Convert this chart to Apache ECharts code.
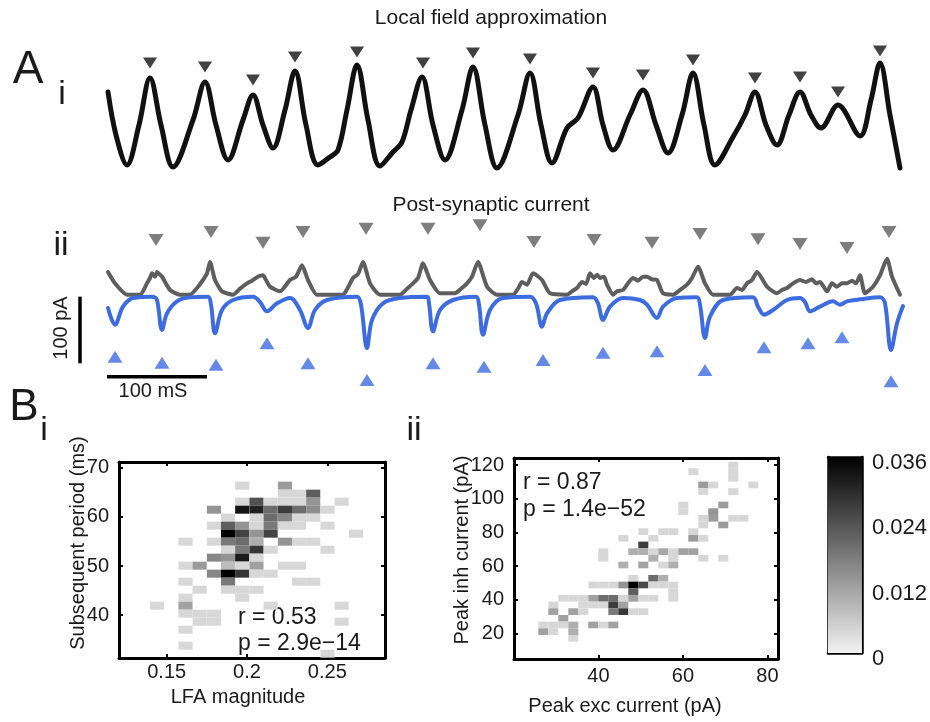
<!DOCTYPE html>
<html><head><meta charset="utf-8">
<script src="https://cdn.jsdelivr.net/npm/echarts@6/dist/echarts.min.js"></script>
<style>html,body{margin:0;padding:0;background:#fff}#c{width:930px;height:722px}</style>
</head><body><div id="c"></div>
<script>
const FONT = "'Liberation Sans', Arial, Helvetica, sans-serif";

// ---- A(i) local field approximation trace (time in ms, arbitrary units) ----
const lfaTime  = [0,8,19,31,42,53,65,85,97,108,120,135,145,155,165,177,187,198,210,222,230,239,249,260,272,285,294,303,314,325,337,354,365,377,389,410,422,433,444,459,470,485,495,505,522,535,548,560,574,585,596,607,625,637,647,658,669,681,692,703,713,730,752,763,772,782,792];
const lfaValue = [78,35,5,45,92,45,3,50,88,45,10,50,75,45,22,60,99,45,5,13,20,60,105,50,4,18,28,60,93,45,10,60,103,45,2,55,97,45,7,42,52,83,45,20,55,80,45,17,55,97,45,5,33,55,78,45,25,55,78,55,42,65,34,70,107,55,2];
const lfaPeakTime  = [42,97,145,187,249,315,365,422,485,535,585,647,692,730,772];
const lfaPeakValue = [107,103,90,113,118,107,117,111,97,95,110,92,93,78,119];

// ---- A(ii) post-synaptic currents (pA) ----
const inhTime  = [0,7,19,32,39,42,44,47,49,52,54,62,72,82,89,95,99,102,107,114,125,132,139,144,150,155,158,162,172,182,188,194,200,209,235,240,245,250,255,262,272,292,299,305,310,315,322,332,347,353,359,364,370,379,389,405,410,414,419,425,434,442,459,464,469,474,478,482,486,489,492,496,499,505,509,515,520,525,530,535,539,544,549,555,565,572,579,584,590,597,605,622,629,634,639,644,649,659,669,674,679,685,692,698,704,708,712,719,724,729,734,739,744,748,752,757,765,772,779,784,792];
const inhValue = [37,20,3,3,20,28,35,30,37,33,30,10,3,3,13,25,35,52,25,8,3,12,20,24,30,32,25,15,8,25,30,47,25,3,3,14,28,34,52,20,3,3,12,20,28,50,25,5,5,12,20,30,52,15,3,3,12,22,18,35,25,5,3,8,13,22,19,35,28,33,28,30,18,3,8,10,20,28,24,30,30,26,25,5,3,10,18,28,45,20,3,3,13,10,20,25,37,15,5,10,13,20,25,22,26,20,22,8,20,15,20,20,24,20,32,5,15,32,57,30,3];
const excTime  = [0,7,15,25,45,49,54,59,69,82,100,103,107,114,125,145,152,159,169,182,192,200,207,219,249,253,259,264,275,292,319,321,325,332,345,368,371,375,382,395,422,428,434,439,452,485,490,495,502,515,532,539,549,555,569,589,592,597,602,615,645,650,656,665,679,692,697,702,712,725,732,739,752,772,777,783,789,795];
const excValue = [-17,-42,-15,-2,0,-5,-50,-25,-7,-1,0,-12,-55,-20,-5,0,-8,-22,-10,-2,-20,-47,-20,-5,0,-12,-77,-35,-10,-2,0,-10,-52,-20,-5,0,-12,-57,-20,-2,0,-10,-45,-25,-5,-1,-10,-35,-15,-2,-5,-12,-32,-15,-2,-1,-12,-62,-30,-5,-1,-15,-27,-20,-5,-2,-8,-22,-15,-7,-12,-7,-4,-1,-10,-80,-40,-14];
const inhPeakTime  = [48,103,155,195,258,320,372,426,486,544,592,650,692,739,781];
const inhPeakValue = [85,97,81,97,102,102,107,82,85,81,94,86,79,73,97];
const excPeakTime  = [7,54,108,159,200,259,325,376,435,495,549,597,656,700,734,783];
const excPeakValue = [-90,-99,-102,-70,-100,-125,-100,-105,-95,-84,-82,-110,-76,-70,-61,-127];

// ---- B(i) 2D histogram: LFA magnitude vs subsequent period ----
const biXCenters = [0.1440,0.1528,0.1617,0.1705,0.1794,0.1882,0.1970,0.2059,0.2147,0.2236,0.2324,0.2412,0.2501,0.2589,0.2678];
const biYCenters = [32.16,33.79,35.42,37.04,38.67,40.30,41.93,43.56,45.18,46.81,48.44,50.07,51.70,53.32,54.95,56.58,58.21,59.84,61.46,63.09,64.72,66.35,67.98,69.60];
const biCells = [
 [6,21,.004],[9,21,.013],
 [9,20,.004],[10,20,.004],[11,20,.022],
 [6,19,.004],[7,19,.024],[8,19,.004],[9,19,.004],[10,19,.004],[11,19,.014],[13,19,.004],
 [4,18,.014],[6,18,.033],[7,18,.031],[8,18,.02],[9,18,.027],[10,18,.02],[11,18,.015],[12,18,.004],
 [5,17,.004],[7,17,.004],[8,17,.02],[9,17,.016],[10,17,.004],[11,17,.004],
 [4,16,.004],[5,16,.022],[6,16,.014],[7,16,.004],[8,16,.018],[9,16,.004],[10,16,.004],[12,16,.004],
 [5,15,.036],[6,15,.026],[7,15,.014],[8,15,.026],[14,15,.004],
 [2,14,.004],[4,14,.004],[5,14,.018],[6,14,.02],[7,14,.01],[9,14,.014],[10,14,.004],[11,14,.004],
 [5,13,.004],[6,13,.018],[7,13,.028],[8,13,.004],[12,13,.004],
 [4,12,.016],[5,12,.014],[6,12,.032],[7,12,.004],
 [2,11,.004],[3,11,.013],[5,11,.008],[6,11,.004],[7,11,.012],[9,11,.004],[10,11,.004],
 [4,10,.016],[5,10,.036],[6,10,.028],[7,10,.004],[8,10,.004],
 [2,9,.004],[5,9,.018],[10,9,.004],[11,9,.004],
 [3,8,.004],[5,8,.004],[6,8,.004],[7,8,.004],
 [2,7,.004],[6,7,.004],
 [0,6,.004],[2,6,.012],[8,6,.004],[13,6,.004],
 [2,5,.004],[3,5,.004],[4,5,.004],
 [3,4,.004],[4,4,.004],[13,4,.004],
 [2,3,.004],[2,1,.004],[12,0,.004]
];

// ---- B(ii) 2D histogram: peak exc vs peak inh current ----
const biiXCenters = [26.94,29.31,31.67,34.04,36.41,38.78,41.14,43.51,45.88,48.24,50.61,52.98,55.34,57.71,60.08,62.45,64.81,67.18,69.55,71.91,74.28,76.65,79.01];
const biiYCenters = [17.03,20.99,24.96,28.92,32.88,36.85,40.81,44.77,48.73,52.70,56.66,60.62,64.59,68.55,72.51,76.48,80.44,84.40,88.36,92.33,96.29,100.25,104.22,108.18,112.14,116.11,120.07];
const biiCells = [
 [19,26,.004],[15,25,.004],[19,25,.004],[19,24,.004],
 [16,23,.013],[17,23,.004],[21,23,.004],
 [16,22,.004],[19,22,.004],
 [18,20,.013],[14,20,.004],
 [14,19,.004],[17,19,.014],
 [17,18,.013],[16,18,.004],[19,18,.004],[20,18,.004],
 [18,17,.013],[16,17,.004],
 [10,16,.004],[12,16,.004],[13,16,.004],[15,16,.004],
 [8,15,.004],[11,15,.004],[15,15,.013],[16,15,.004],
 [10,14,.027],
 [6,13,.004],[9,13,.01],[10,13,.01],[11,13,.004],[12,13,.011],[13,13,.004],[14,13,.012],[15,13,.012],
 [6,12,.004],[11,12,.01],[13,12,.004],[16,12,.004],[18,12,.004],
 [8,11,.01],[10,11,.012],[12,11,.004],[13,11,.01],
 [9,9,.004],[11,9,.02],[12,9,.01],
 [5,8,.004],[6,8,.004],[7,8,.004],[8,8,.014],[9,8,.036],[10,8,.025],[11,8,.004],[12,8,.004],[13,8,.004],
 [9,7,.022],[13,7,.004],
 [2,6,.004],[3,6,.004],[4,6,.004],[5,6,.012],[6,6,.02],[7,6,.02],[8,6,.004],[9,6,.012],[10,6,.004],[11,6,.004],[13,6,.004],
 [1,5,.004],[4,5,.004],[5,5,.004],[6,5,.004],[7,5,.027],[8,5,.012],
 [1,4,.012],[3,4,.012],[4,4,.004],[7,4,.018],[8,4,.028],[9,4,.004],[10,4,.004],
 [2,3,.012],
 [0,2,.004],[1,2,.004],[2,2,.004],[3,2,.01],[5,2,.012],[6,2,.004],[7,2,.012],
 [0,1,.012],[1,1,.004],[3,1,.01],
 [3,0,.004]
];

const biXTicks = [0.15, 0.2, 0.25];
const biYTicks = [40, 50, 60, 70];
const biiXTicks = [40, 60, 80];
const biiYTicks = [20, 40, 60, 80, 100, 120];
const cbTicks = [0, 0.012, 0.024, 0.036];
const cbMax = 0.036;

// scale bars (pA / ms)
const scalePA = [0, -100];
const scaleMS = [-1, 99];

const zip = (a, b) => a.map((v, i) => [v, b[i]]);
const grayOf = v => { const g = Math.round(242 * (1 - Math.min(v, cbMax) / cbMax)); return 'rgb(' + g + ',' + g + ',' + g + ')'; };
function heatItem(xs, ys) {
  const hw = (xs[1] - xs[0]) / 2, hh = (ys[1] - ys[0]) / 2;
  return function (params, api) {
    const x = api.value(0), y = api.value(1), v = api.value(2);
    const a = api.coord([x - hw, y + hh]), b = api.coord([x + hw, y - hh]);
    return { type: 'rect', shape: { x: a[0], y: a[1], width: b[0] - a[0], height: b[1] - a[1] }, style: { fill: grayOf(v) } };
  };
}

const hiddenAxis = (gi, min, max) => ({ type: 'value', gridIndex: gi, min, max, show: false });
function boxAxis(gi, min, max, ticks, pos, showLabel, extra, labelMargin) {
  return Object.assign({
    type: 'value', gridIndex: gi, min, max, position: pos,
    axisLine: { show: true, onZero: false, lineStyle: { color: '#000', width: 3 } },
    axisTick: { show: !!ticks, inside: true, length: 4, lineStyle: { color: '#000', width: 2 }, customValues: ticks || undefined },
    axisLabel: { show: showLabel, customValues: ticks || undefined, fontSize: 20, color: '#1a1a1a', fontFamily: FONT, margin: labelMargin == null ? 10 : labelMargin },
    splitLine: { show: false }
  }, extra || {});
}

const txt = (text, x, y, size, extra) => Object.assign({
  type: 'text', x, y,
  style: { text, font: size + 'px ' + FONT, fill: '#1a1a1a', align: 'center', verticalAlign: 'middle' }
}, extra || {});

const cbLine = { show: true, onZero: false, lineStyle: { color: '#000', width: 2.5 } };

const chart = echarts.init(document.getElementById('c'), null, { renderer: 'canvas' });
chart.setOption({
  backgroundColor: '#fff',
  animation: false,
  grid: [
    { left: 60, top: 40, width: 848, height: 140, containLabel: false },
    { left: 60, top: 220, width: 848, height: 180, containLabel: false },
    { left: 119, top: 462, width: 266, height: 196, containLabel: false },
    { left: 514, top: 458, width: 264, height: 201, containLabel: false },
    { left: 828, top: 457, width: 34, height: 196, containLabel: false }
  ],
  xAxis: [
    hiddenAxis(0, -48, 800),
    hiddenAxis(1, -48, 800),
    boxAxis(2, 0.1203, 0.2859, biXTicks, 'bottom', true, null, 4),
    boxAxis(2, 0.1203, 0.2859, biXTicks, 'top', false),
    boxAxis(3, 20, 82.5, biiXTicks, 'bottom', true, null, 7),
    boxAxis(3, 20, 82.5, biiXTicks, 'top', false),
    boxAxis(4, 0, 1, null, 'bottom', false, { axisLine: cbLine }),
    boxAxis(4, 0, 1, null, 'top', false, { axisLine: cbLine })
  ],
  yAxis: [
    hiddenAxis(0, -10, 130),
    hiddenAxis(1, -155, 115),
    boxAxis(2, 31.28, 71.16, biYTicks, 'left', true),
    boxAxis(2, 31.28, 71.16, biYTicks, 'right', false),
    boxAxis(3, 4.73, 124.2, biiYTicks, 'left', true),
    boxAxis(3, 4.73, 124.2, biiYTicks, 'right', false),
    boxAxis(4, 0, cbMax, null, 'left', false, { axisLine: cbLine }),
    boxAxis(4, 0, cbMax, cbTicks, 'right', true, {
      axisLine: cbLine,
      axisTick: { show: false },
      axisLabel: { show: true, customValues: cbTicks, fontSize: 22, color: '#1a1a1a', fontFamily: FONT, margin: 10,
        verticalAlign: 'top', lineHeight: 12,
        formatter: v => v === 0 ? '0' : v.toFixed(3) }
    })
  ],
  series: [
    { type: 'line', xAxisIndex: 0, yAxisIndex: 0, data: zip(lfaTime, lfaValue), smooth: 0.35, showSymbol: false,
      lineStyle: { color: '#111', width: 5, cap: 'round', join: 'round' }, z: 3 },
    { type: 'scatter', xAxisIndex: 0, yAxisIndex: 0, data: zip(lfaPeakTime, lfaPeakValue), symbol: 'triangle', symbolRotate: 180,
      symbolSize: [14, 11], itemStyle: { color: '#111' } },
    { type: 'line', xAxisIndex: 1, yAxisIndex: 1, data: zip(inhTime, inhValue), smooth: 0.2, showSymbol: false,
      lineStyle: { color: '#5e5e5e', width: 4, cap: 'round', join: 'round' }, z: 2 },
    { type: 'line', xAxisIndex: 1, yAxisIndex: 1, data: zip(excTime, excValue), smooth: 0.35, showSymbol: false,
      lineStyle: { color: '#3d6be0', width: 4, cap: 'round', join: 'round' }, z: 3 },
    { type: 'scatter', xAxisIndex: 1, yAxisIndex: 1, data: zip(inhPeakTime, inhPeakValue), symbol: 'triangle', symbolRotate: 180,
      symbolSize: [15, 12], itemStyle: { color: '#5e5e5e' } },
    { type: 'scatter', xAxisIndex: 1, yAxisIndex: 1, data: zip(excPeakTime, excPeakValue), symbol: 'triangle',
      symbolSize: [15, 12], itemStyle: { color: '#3d6be0' } },
    { type: 'line', xAxisIndex: 1, yAxisIndex: 1, data: [[-28, scalePA[0]], [-28, scalePA[1]]], showSymbol: false, clip: false,
      lineStyle: { color: '#000', width: 3.5 } },
    { type: 'line', xAxisIndex: 1, yAxisIndex: 1, data: [[scaleMS[0], -120], [scaleMS[1], -120]], showSymbol: false, clip: false,
      lineStyle: { color: '#000', width: 3.5 } },
    { type: 'custom', xAxisIndex: 2, yAxisIndex: 2, clip: true, renderItem: heatItem(biXCenters, biYCenters),
      encode: { x: 0, y: 1 }, data: biCells.map(c => [biXCenters[c[0]], biYCenters[c[1]], c[2]]), z: 1 },
    { type: 'custom', xAxisIndex: 4, yAxisIndex: 4, clip: true, renderItem: heatItem(biiXCenters, biiYCenters),
      encode: { x: 0, y: 1 }, data: biiCells.map(c => [biiXCenters[c[0]], biiYCenters[c[1]], c[2]]), z: 1 },
    { type: 'custom', xAxisIndex: 6, yAxisIndex: 6, encode: { x: 0, y: 1 }, data: [[0.5, cbMax / 2]], z: 1,
      renderItem: function (params, api) {
        const a = api.coord([0, cbMax]), b = api.coord([1, 0]);
        return { type: 'rect', shape: { x: a[0], y: a[1], width: b[0] - a[0], height: b[1] - a[1] },
          style: { fill: new echarts.graphic.LinearGradient(0, 0, 0, 1, [{ offset: 0, color: '#000' }, { offset: 1, color: 'rgb(242,242,242)' }]) } };
      } }
  ],
  graphic: [
    txt('Local field approximation', 491, 18, 21),
    txt('Post-synaptic current', 491, 205, 21),
    txt('A', 28, 70, 46),
    txt('i', 62, 95, 34),
    txt('ii', 61, 246, 34),
    txt('B', 24, 408, 44),
    txt('i', 44, 431, 34),
    txt('ii', 414, 431, 34),
    txt('100 pA', 61, 328, 20, { rotation: Math.PI / 2 }),
    txt('100 mS', 153, 391, 20),
    txt('Subsequent period (ms)', 78, 543, 20, { rotation: Math.PI / 2 }),
    txt('LFA magnitude', 238, 697, 20),
    txt('Peak inh current (pA)', 462, 550, 20, { rotation: Math.PI / 2 }),
    txt('Peak exc current (pA)', 625, 706, 20),
    { type: 'text', x: 238, y: 618, style: { text: 'r = 0.53', font: '23px ' + FONT, fill: '#1a1a1a', align: 'left', verticalAlign: 'middle' } },
    { type: 'text', x: 238, y: 644, style: { text: 'p = 2.9e\u221214', font: '23px ' + FONT, fill: '#1a1a1a', align: 'left', verticalAlign: 'middle' } },
    { type: 'text', x: 523, y: 483, style: { text: 'r = 0.87', font: '23px ' + FONT, fill: '#1a1a1a', align: 'left', verticalAlign: 'middle' } },
    { type: 'text', x: 523, y: 510, style: { text: 'p = 1.4e\u221252', font: '23px ' + FONT, fill: '#1a1a1a', align: 'left', verticalAlign: 'middle' } }
  ]
});
</script>
</body></html>
